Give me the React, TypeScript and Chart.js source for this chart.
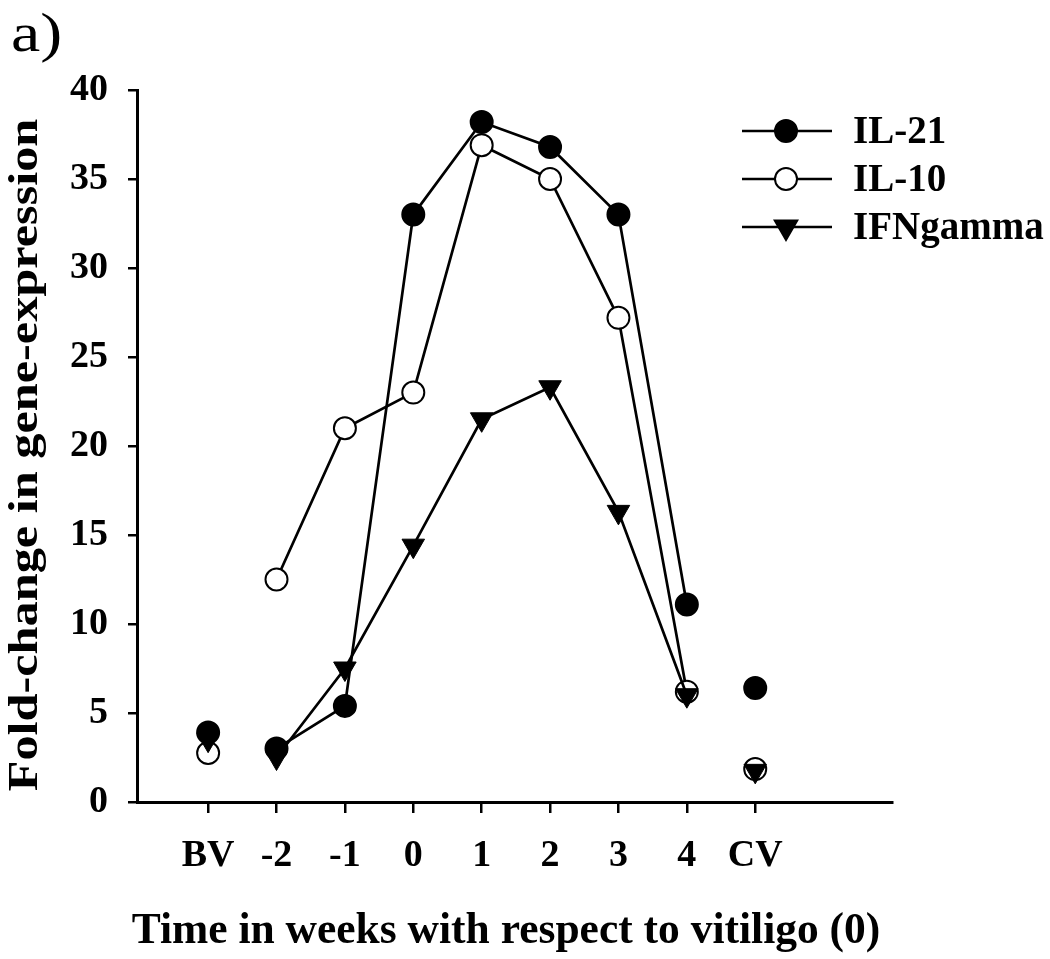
import React, { useEffect, useRef } from "react";
import { Chart, registerables } from "chart.js";

Chart.register(...registerables);

const categories = ["BV", "-2", "-1", "0", "1", "2", "3", "4", "CV"];
const il21 = [3.9, 3.0, 5.4, 33.0, 38.2, 36.8, 33.0, 11.1, 6.4];
const il10 = [2.75, 12.5, 21.0, 23.0, 36.9, 35.0, 27.2, 6.2, 1.85];
const ifng = [3.5, 2.5, 7.5, 14.4, 21.5, 23.3, 16.3, 6.0, 1.75];
const yTicks = [0, 5, 10, 15, 20, 25, 30, 35, 40];
const seriesNames = ["IL-21", "IL-10", "IFNgamma"];
const yTitle = "Fold-change in gene-expression";
const xTitle = "Time in weeks with respect to vitiligo (0)";
const panelLabel = "a)";

const SERIF = "'Liberation Serif', 'Times New Roman', serif";

const toPoints = (vals: number[]) => vals.map((v, i) => ({ x: i, y: v }));

const gapSegment = {
  borderColor: (ctx: any) =>
    ctx.p0DataIndex === 0 || ctx.p1DataIndex === categories.length - 1
      ? "rgba(0,0,0,0)"
      : undefined,
};

const decorPlugin = {
  id: "decor",
  afterDraw(chart: any) {
    const ctx = chart.ctx;
    const rows = [131, 179, 227];
    const x0 = 742;
    const x1 = 832;
    const mx = 786;
    ctx.save();
    rows.forEach((y, i) => {
      ctx.strokeStyle = "#000";
      ctx.lineWidth = 2.5;
      ctx.beginPath();
      ctx.moveTo(x0, y);
      ctx.lineTo(x1, y);
      ctx.stroke();
      ctx.lineWidth = 2;
      if (i === 0 || i === 1) {
        ctx.beginPath();
        ctx.arc(mx, y, 11, 0, Math.PI * 2);
        ctx.fillStyle = i === 0 ? "#000" : "#fff";
        ctx.fill();
        ctx.stroke();
      } else {
        const r = 13;
        ctx.beginPath();
        ctx.moveTo(mx, y + r);
        ctx.lineTo(mx - r * Math.sin(Math.PI / 3), y - r / 2);
        ctx.lineTo(mx + r * Math.sin(Math.PI / 3), y - r / 2);
        ctx.closePath();
        ctx.fillStyle = "#000";
        ctx.fill();
        ctx.stroke();
      }
      ctx.fillStyle = "#000";
      ctx.font = `bold 39px ${SERIF}`;
      ctx.textAlign = "left";
      ctx.textBaseline = "middle";
      ctx.fillText(seriesNames[i], 853, y + 2);
    });

    // panel label
    ctx.save();
    ctx.translate(11, 51);
    ctx.scale(1.22, 1);
    ctx.font = `54px ${SERIF}`;
    ctx.textAlign = "left";
    ctx.textBaseline = "alphabetic";
    ctx.fillStyle = "#000";
    ctx.fillText(panelLabel, 0, 0);
    ctx.restore();

    // y axis title
    ctx.save();
    ctx.translate(37, 455);
    ctx.rotate(-Math.PI / 2);
    ctx.scale(1.17, 1);
    ctx.font = `bold 43px ${SERIF}`;
    ctx.textAlign = "center";
    ctx.textBaseline = "alphabetic";
    ctx.fillStyle = "#000";
    ctx.fillText(yTitle, 0, 0);
    ctx.restore();

    // x axis title
    ctx.save();
    ctx.font = `bold 43.5px ${SERIF}`;
    ctx.textAlign = "center";
    ctx.textBaseline = "alphabetic";
    ctx.fillStyle = "#000";
    ctx.fillText(xTitle, 506, 943);
    ctx.restore();

    ctx.restore();
  },
};

export default function App() {
  const ref = useRef<HTMLCanvasElement | null>(null);

  useEffect(() => {
    if (!ref.current) return;
    const chart = new Chart(ref.current, {
      type: "line",
      data: {
        datasets: [
          {
            label: seriesNames[0],
            data: toPoints(il21),
            borderColor: "#000",
            borderWidth: 2.7,
            backgroundColor: "#000",
            pointBackgroundColor: "#000",
            pointBorderColor: "#000",
            pointBorderWidth: 2,
            pointRadius: 11,
            pointStyle: "circle",
            segment: gapSegment,
            order: 1,
          },
          {
            label: seriesNames[1],
            data: toPoints(il10),
            borderColor: "#000",
            borderWidth: 2.7,
            backgroundColor: "#fff",
            pointBackgroundColor: "#fff",
            pointBorderColor: "#000",
            pointBorderWidth: 2,
            pointRadius: 11,
            pointStyle: "circle",
            segment: gapSegment,
            order: 2,
          },
          {
            label: seriesNames[2],
            data: toPoints(ifng),
            borderColor: "#000",
            borderWidth: 2.7,
            backgroundColor: "#000",
            pointBackgroundColor: "#000",
            pointBorderColor: "#000",
            pointBorderWidth: 1,
            pointRadius: 13,
            pointStyle: "triangle",
            rotation: 180,
            segment: gapSegment,
            order: 0,
          },
        ] as any,
      },
      options: {
        animation: false,
        responsive: true,
        maintainAspectRatio: false,
        layout: { padding: { top: 90, right: 158, left: 0, bottom: 0 } },
        plugins: {
          legend: { display: false },
          tooltip: { enabled: false },
          title: { display: false },
        },
        elements: { line: { tension: 0 } },
        scales: {
          x: {
            type: "linear",
            min: -1.04,
            max: 10,
            afterBuildTicks: (scale: any) => {
              scale.ticks = categories.map((_, i) => ({ value: i }));
            },
            afterFit: (scale: any) => {
              scale.height = 157;
            },
            ticks: {
              callback: (value: any) => categories[Math.round(Number(value))] ?? "",
              color: "#000",
              font: { family: SERIF, size: 38, weight: "bold" },
              padding: 20,
              maxRotation: 0,
              autoSkip: false,
            },
            grid: {
              drawOnChartArea: false,
              drawTicks: true,
              tickLength: 11,
              color: "#000",
              lineWidth: 2.5,
            },
            border: { display: true, color: "#000", width: 3 },
            title: { display: false },
          },
          y: {
            type: "linear",
            min: 0,
            max: 40,
            afterBuildTicks: (scale: any) => {
              scale.ticks = yTicks.map((v) => ({ value: v }));
            },
            afterFit: (scale: any) => {
              scale.width = 137;
            },
            ticks: {
              color: "#000",
              font: { family: SERIF, size: 38, weight: "bold" },
              padding: 20,
            },
            grid: {
              drawOnChartArea: false,
              drawTicks: true,
              tickLength: 9,
              color: "#000",
              lineWidth: 2.5,
            },
            border: { display: true, color: "#000", width: 3 },
            title: { display: false },
          },
        },
      } as any,
      plugins: [decorPlugin],
    });
    return () => chart.destroy();
  }, []);

  return (
    <div
      style={{
        position: "fixed",
        left: 0,
        top: 0,
        width: 1050,
        height: 959,
        background: "#fff",
      }}
    >
      <canvas ref={ref} />
    </div>
  );
}
